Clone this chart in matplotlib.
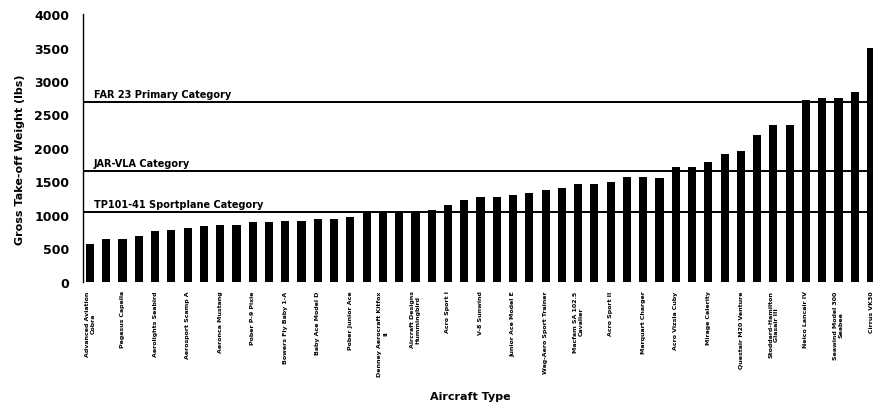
# 航空機の総離陸重量の棒グラフ

import numpy as np
import matplotlib
matplotlib.use("Agg")
import matplotlib.pyplot as plt

# 各機体の総離陸重量 [lbs]（昇順）
weights = [560, 635, 635, 690, 755, 770, 805, 830, 845, 845,
           895, 895, 915, 915, 945, 945, 965, 1040, 1040, 1040,
           1065, 1070, 1150, 1220, 1275, 1275, 1300, 1325, 1375, 1410,
           1460, 1460, 1490, 1560, 1560, 1555, 1710, 1710, 1785, 1910,
           1950, 2195, 2350, 2350, 2715, 2745, 2745, 2840, 3500]

# 1本おきに付くラベル
tick_labels = [
    "Advanced Aviation\nCobra", "Pegasus Capella", "Aerolights Seabird",
    "Aerosport Scamp A", "Aeronca Mustang", "Pober P-9 Pixie",
    "Bowers Fly Baby 1-A", "Baby Ace Model D", "Pober Junior Ace",
    "Denney Aerocraft Kitfox\nII", "Aircraft Designs\nHummingbird",
    "Acro Sport I", "V-8 Sunwind", "Junior Ace Model E",
    "Wag-Aero Sport Trainer", "Macfam SA 102.5\nCavalier", "Acro Sport II",
    "Marquart Charger", "Acro Vizsla Cuby", "Mirage Celerity",
    "Questair M20 Venture", "Stoddard-Hamilton\nGlasair III",
    "Neico Lancair IV", "Seawind Model 300\nSeabee", "Cirrus VK30",
]

# 規定カテゴリの上限重量 [lbs]
category_names = ["FAR 23 Primary Category", "JAR-VLA Category",
                  "TP101-41 Sportplane Category"]
category_limits = [2680, 1653, 1040]

FONT = "DejaVu Sans"


def main():
    fig = plt.figure(figsize=(8.73, 4.10), dpi=100)
    ax = fig.add_axes([83 / 873, 127 / 410, 1 - 83 / 873, 268 / 410])

    x = np.arange(len(weights))
    ax.bar(x, weights, width=0.5, color="black", zorder=2)

    # カテゴリ線とラベル
    for name, limit in zip(category_names, category_limits):
        ax.axhline(limit, color="black", linewidth=1.4, zorder=3)
        ax.text(0.22, limit + 45, name, ha="left", va="bottom",
                fontsize=7, fontweight="bold", family=FONT)

    ax.set_xlim(-0.43, 48.12)
    ax.set_ylim(0, 4000)
    ax.set_yticks(np.arange(0, 4001, 500))
    ax.tick_params(axis="y", length=0, pad=10, labelsize=9)
    for lab in ax.get_yticklabels():
        lab.set_fontweight("bold")

    ax.set_xticks(x[::2])
    ax.set_xticklabels(tick_labels, rotation=90, fontsize=4.5,
                       fontweight="bold", family=FONT)
    ax.tick_params(axis="x", length=0, pad=6)

    for side in ["top", "right", "bottom"]:
        ax.spines[side].set_visible(False)
    ax.spines["left"].set_linewidth(1.0)

    fig.text(20 / 873, 1 - 160 / 410, "Gross Take-off Weight (lbs)",
             rotation=90, ha="center", va="center", fontsize=8,
             fontweight="bold", family=FONT)
    fig.text(470 / 873, 1 - 397 / 410, "Aircraft Type", ha="center",
             va="center", fontsize=8, fontweight="bold", family=FONT)

    fig.savefig("out.png", dpi=100, facecolor="white")


if __name__ == "__main__":
    main()
